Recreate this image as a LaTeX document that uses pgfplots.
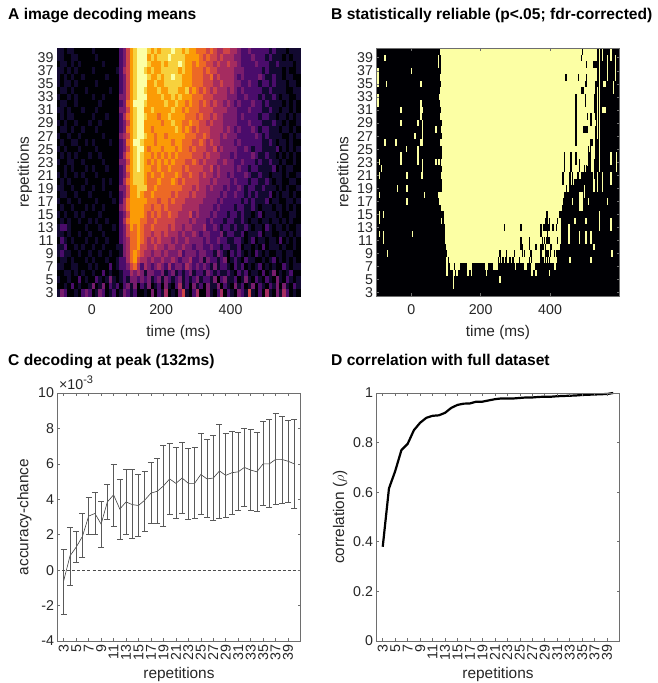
\documentclass[border=0pt]{standalone}
\usepackage{fontspec}
\setmainfont{Liberation Sans}
\usepackage{pgfplots}
\usepackage{pgfplotstable}
\pgfplotsset{compat=1.18}
\definecolor{ylw}{RGB}{252,255,164}
\definecolor{blk}{RGB}{0,0,4}
\definecolor{txt}{RGB}{38,38,38}
\definecolor{frm}{RGB}{110,110,110}
\newcommand{\tickfont}{\fontsize{14.2}{16}\selectfont}
\newcommand{\labfont}{\fontsize{15.4}{17}\selectfont}
\newcommand{\titfont}{\fontsize{15.6}{18}\selectfont\bfseries}
\pgfdeclareplotmark{cell}{\pgfpathrectangle{\pgfqpoint{-1.74pt}{-3.27pt}}{\pgfqpoint{3.48pt}{6.54pt}}\pgfusepathqfillstroke}
\pgfplotsset{
  colormap={inferno}{rgb255=(0,0,4) rgb255=(18,9,48) rgb255=(74,12,107) rgb255=(120,28,109) rgb255=(165,44,96) rgb255=(207,68,70) rgb255=(237,105,37) rgb255=(251,155,6) rgb255=(247,209,61) rgb255=(252,255,164)},
  base/.style={
    scale only axis, width=243pt, height=248pt, axis on top,
    axis line style={draw=frm, line width=0.7pt},
    tick style={draw=frm, line width=0.6pt},
    tick align=inside, major tick length=2.6pt,
    tick label style={font=\tickfont, text=txt},
    /pgf/number format/assume math mode=true,
  },
  heat/.style={base,
    xmin=-100, xmax=600, ymin=2.5, ymax=40.5,
    xtick={0,200,400}, ytick={3,5,...,39},
    xticklabel style={yshift=-5pt},
    xlabel={time (ms)}, ylabel={repetitions},
    xlabel style={at={(axis description cs:0.5,-0.147)},anchor=center,font=\labfont,text=txt},
    ylabel style={at={(axis description cs:-0.132,0.5)},anchor=center,font=\labfont,text=txt},
  },
  line/.style={base,
    xmin=2, xmax=41, xtick={3,5,...,39},
    xticklabel style={rotate=90, anchor=east},
    xlabel={repetitions},
    xlabel style={at={(axis description cs:0.5,-0.137)},anchor=center,font=\labfont,text=txt},
  },
  vstreak/.style={draw=none, mark=none, forget plot,
    error bars/.cd, y dir=both, y explicit, error mark=none,
    error bar style={draw=#1, solid, line width=1.4pt}},
}
% panel A: mean decoding, repetition in first column, then one column per 10 ms from -100 to 590 (colour level 0-9)
\pgfplotstableread[header=false]{
40  1 1 0 1 1 0 0 0 0 0  1 0 0 0 0 0 0 0 2 3  5 7 8 9 9 9 8 7 8 7  8 8 8 9 8 8 7 8 7 7  6 6 6 5 6 5 4 4 5 5  4 4 3 2 2 3 2 2 2 2  2 1 2 1 1 1 0 1 1 1
39  1 1 0 0 1 1 0 0 0 0  0 1 0 0 0 0 0 0 2 3  5 7 8 9 9 9 7 8 7 8  8 8 9 8 8 8 8 7 7 7  7 6 5 6 5 5 4 5 4 4  4 3 3 2 2 2 3 2 2 2  1 2 1 1 1 0 1 0 1 1
38  0 1 1 0 1 0 1 0 0 0  0 0 0 1 0 0 0 0 2 3  5 7 8 9 9 9 8 7 7 7  8 7 8 8 8 9 8 7 7 6  7 6 6 5 5 4 5 4 4 5  4 4 3 2 2 2 2 3 2 2  2 1 1 2 1 1 1 1 0 1
37  1 1 0 1 0 1 0 0 0 0  1 0 0 0 0 0 0 1 2 4  5 7 8 9 9 8 7 8 7 7  8 8 8 8 8 7 8 7 7 6  6 6 5 6 5 5 4 4 4 4  4 3 3 3 2 2 2 2 2 1  2 1 1 1 1 0 1 0 0 1
36  1 0 1 0 1 0 0 1 0 0  0 0 0 0 1 0 0 0 2 3  5 7 8 9 9 9 8 7 7 8  7 8 8 9 8 8 7 7 7 6  6 6 5 5 6 4 5 4 4 4  4 3 2 3 2 2 2 2 3 2  1 1 2 1 1 0 1 1 0 0
35  1 0 1 1 0 1 0 0 0 0  0 1 0 0 0 0 0 0 2 3  5 7 8 9 9 9 7 7 8 7  7 8 8 8 8 8 7 7 7 6  6 6 5 5 5 4 4 5 4 4  4 3 3 2 2 3 2 2 1 2  2 1 2 1 1 1 0 1 1 0
34  0 1 1 0 1 0 0 0 1 0  0 0 0 0 0 1 0 0 2 3  5 7 8 9 9 8 7 7 7 8  7 7 8 8 8 7 7 8 6 7  6 5 6 5 4 5 4 4 4 3  4 3 2 3 2 2 2 2 2 1  1 2 1 1 1 1 0 0 1 1
33  1 0 0 1 0 1 0 0 0 0  1 0 0 1 0 0 0 0 3 3  5 7 8 9 9 9 7 7 7 7  8 7 7 8 7 8 7 7 7 6  6 6 5 5 5 4 4 4 4 3  3 3 2 2 3 2 2 2 1 2  1 1 2 1 0 1 1 0 0 1
32  0 1 1 0 0 1 0 0 0 0  0 0 1 0 0 0 0 0 2 3  6 7 9 9 9 8 7 7 7 7  7 8 7 7 8 7 7 6 7 6  6 5 6 5 4 5 4 4 3 4  3 2 3 2 2 2 3 2 2 1  2 1 1 1 1 0 1 0 1 0
31  1 1 0 1 0 0 0 1 0 0  0 1 0 0 0 0 0 0 3 3  5 7 8 9 9 7 7 8 7 7  7 7 7 8 7 7 6 7 6 6  6 5 5 5 5 4 4 4 4 3  3 3 2 2 2 3 2 2 2 1  1 2 1 1 0 1 1 0 1 0
30  0 1 0 1 1 0 0 0 0 0  1 0 0 0 1 0 0 0 2 4  6 7 8 9 9 8 7 7 7 6  7 7 8 7 7 7 7 6 6 6  5 6 5 5 4 5 4 4 3 3  3 3 2 3 2 2 2 2 1 2  2 1 1 0 1 1 0 1 0 1
29  1 0 1 0 0 1 0 0 0 1  0 0 1 0 0 0 0 0 2 3  5 7 8 9 9 7 7 7 7 7  6 7 7 8 7 7 6 6 7 6  6 5 5 4 5 4 4 4 3 3  3 3 2 2 2 3 2 2 2 1  1 1 2 1 1 0 1 0 0 1
28  0 1 1 0 1 0 0 1 0 0  0 1 0 0 0 0 0 0 2 3  6 7 8 9 9 7 7 6 7 7  7 7 7 7 8 7 6 7 6 5  6 5 5 5 4 4 4 4 3 4  3 2 3 2 2 2 3 2 1 2  2 1 1 1 0 1 1 0 1 0
27  1 0 0 1 0 0 1 0 0 0  0 0 0 1 0 0 0 0 3 4  5 7 8 9 9 8 7 7 6 7  7 6 7 7 7 7 7 6 6 6  5 5 6 5 4 4 4 3 4 3  3 3 2 2 2 2 2 3 2 1  2 1 1 1 1 0 0 1 0 1
26  0 1 0 0 1 1 0 0 1 0  1 0 0 0 0 1 0 0 2 3  6 7 9 9 8 7 7 7 6 7  7 7 7 6 7 7 6 6 6 5  5 6 5 4 5 4 4 3 3 3  3 2 3 2 2 2 2 2 2 1  1 2 1 0 1 1 0 1 0 0
25  1 0 1 0 0 0 1 0 0 0  0 1 0 0 0 0 0 0 2 3  5 7 8 9 9 7 6 7 7 7  6 7 7 7 6 7 6 6 5 6  5 5 5 4 4 5 3 4 3 3  3 3 2 2 3 2 1 2 2 1  1 1 1 2 0 1 0 1 0 1
24  0 1 0 1 0 1 0 0 0 1  0 0 1 0 0 0 0 0 2 4  6 7 8 9 8 7 7 6 7 6  7 6 7 6 7 6 6 6 6 5  5 5 4 5 4 4 4 3 3 3  2 3 2 2 2 2 3 2 1 1  2 1 1 0 1 0 1 0 1 0
23  1 0 0 1 1 0 0 1 0 0  0 0 0 1 0 0 0 0 3 3  5 7 8 9 8 7 6 7 6 7  6 7 6 7 6 6 6 5 5 6  5 4 5 4 4 4 3 3 4 3  3 2 2 3 2 2 2 1 2 1  1 2 1 1 0 1 0 0 1 0
22  0 0 1 0 1 0 0 0 1 0  1 0 0 0 1 0 0 0 2 3  6 7 8 9 8 7 7 6 6 7  6 6 7 6 6 6 5 6 5 5  5 5 4 4 5 3 4 3 3 3  3 2 3 2 2 1 2 2 1 1  1 1 2 0 1 0 1 1 0 0
21  1 0 1 0 0 1 0 1 0 0  0 1 0 0 0 0 0 0 2 3  5 7 8 8 8 7 6 7 6 6  7 6 6 6 7 6 5 5 6 5  5 4 5 4 4 3 4 3 3 2  3 2 2 2 3 2 1 1 2 1  1 0 1 1 1 0 1 0 0 1
20  0 1 0 1 0 0 0 0 1 0  0 0 0 1 0 1 0 0 2 4  6 7 8 8 8 7 6 6 6 7  6 6 6 7 6 5 6 5 5 5  5 4 4 4 3 4 3 3 3 3  2 3 2 2 2 1 2 2 1 1  2 1 0 1 1 0 0 1 1 0
19  1 1 0 0 1 0 0 1 0 0  1 0 0 1 0 0 0 0 3 3  5 7 7 8 8 8 6 6 7 6  6 6 6 6 6 6 5 5 5 4  5 4 4 3 4 3 3 3 2 3  2 2 3 2 1 2 2 1 1 2  1 1 1 0 1 0 1 0 0 1
18  0 1 1 0 0 1 0 0 0 1  0 0 0 0 0 1 0 0 2 3  5 7 7 8 7 6 6 7 6 6  6 6 6 5 6 5 5 5 4 5  4 4 4 3 3 3 3 2 3 2  2 3 2 2 1 2 1 2 1 1  1 2 0 1 0 1 1 0 1 0
17  1 0 0 1 0 0 1 0 0 0  0 1 0 0 0 0 1 0 2 4  6 7 7 7 7 7 6 6 6 5  6 6 5 6 5 5 5 4 4 4  4 4 3 3 3 3 2 3 2 2  2 2 2 1 2 1 2 1 1 1  2 0 1 1 0 0 1 1 0 1
16  0 1 0 0 1 0 0 0 1 0  1 0 0 1 0 0 0 0 3 4  6 7 7 7 7 6 6 5 6 6  5 6 5 5 5 5 4 4 4 4  4 3 3 3 3 2 3 2 2 2  2 1 2 2 1 1 2 1 0 1  1 1 0 1 1 0 1 0 1 0
15  1 0 1 0 0 1 0 1 0 0  0 0 1 0 0 0 0 0 2 3  5 7 7 7 7 6 5 6 5 6  5 5 6 5 5 4 4 4 5 3  4 3 3 3 2 3 2 2 2 1  2 2 1 2 1 1 0 1 2 0  1 1 1 0 1 0 0 1 1 0
14  0 1 0 1 0 0 1 0 0 1  0 1 0 0 1 0 0 0 2 4  6 7 7 7 6 6 5 5 6 5  5 5 5 5 4 4 4 4 3 4  3 3 3 2 3 2 2 2 1 2  2 1 1 2 1 0 1 1 0 1  1 0 1 1 0 1 0 1 0 0
13  1 2 2 1 0 0 0 0 1 0  0 0 1 0 0 0 1 0 2 3  5 7 6 7 6 5 5 6 5 5  5 5 4 5 4 4 3 4 4 3  3 3 4 2 2 3 2 1 2 2  1 2 1 1 2 1 0 1 1 0  2 1 0 1 1 0 1 0 0 1
12  1 1 0 1 0 0 1 0 0 1  0 0 0 1 0 0 0 0 2 3  5 6 6 7 6 5 5 4 5 5  4 5 4 4 4 3 4 3 3 4  3 2 3 3 2 2 2 3 1 2  2 1 1 2 0 1 1 1 2 0  1 1 0 0 1 1 0 1 0 1
11  0 2 1 0 1 0 0 0 1 0  0 1 0 0 1 0 0 0 2 3  4 6 6 7 6 5 4 5 4 5  4 4 4 3 4 3 3 4 3 3  3 3 2 3 2 2 3 2 2 1  1 2 2 1 0 1 2 0 1 1  0 1 1 0 2 0 1 0 1 0
10  1 1 2 0 0 1 0 1 0 0  1 0 0 1 0 0 0 1 1 3  4 6 6 7 5 5 4 4 5 4  4 3 4 4 3 3 4 3 3 2  3 3 2 2 3 2 2 1 2 2  1 1 2 0 1 1 0 1 0 2  0 1 1 1 0 1 0 0 1 0
9   1 2 1 1 0 0 1 0 0 1  0 0 1 0 0 1 0 0 1 3  4 6 7 6 5 4 4 3 4 4  3 4 3 3 3 4 2 3 3 3  2 3 3 2 2 1 3 2 1 0  2 1 2 1 0 1 0 2 1 0  1 0 0 1 1 0 1 1 0 0
8   0 1 1 0 1 0 0 0 1 0  1 0 0 0 1 0 0 1 2 2  4 6 7 5 4 4 3 4 3 3  4 3 3 4 3 2 3 3 4 2  2 3 1 3 2 2 1 2 3 0  1 2 1 0 2 1 1 0 0 1  0 1 2 0 1 0 1 0 1 0
7   1 1 0 0 1 1 0 0 0 1  0 1 0 0 0 2 0 1 2 2  3 5 6 4 2 4 3 2 3 4  3 2 4 2 3 3 2 4 3 2  3 2 3 2 1 3 1 2 2 1  0 2 1 2 0 1 0 1 2 0  1 0 1 0 0 2 1 0 1 1
6   0 0 1 1 0 1 0 1 0 0  1 0 0 2 0 1 0 0 1 2  2 4 3 4 3 1 3 3 2 2  3 1 2 3 1 2 1 2 3 1  2 2 1 3 2 1 2 1 1 2  1 0 2 1 2 0 1 1 0 2  0 1 3 0 1 0 1 2 0 0
5   1 0 0 1 0 0 2 0 1 0  0 2 1 0 1 3 1 0 1 2  1 3 3 2 3 2 3 1 2 3  1 3 2 1 2 3 1 2 1 2  3 1 2 2 1 3 0 2 3 1  1 2 0 1 3 1 0 2 1 0  2 1 0 3 1 0 2 1 0 1
4   0 0 1 0 2 0 1 0 0 1  3 0 1 3 0 2 1 2 0 2  3 1 3 0 2 1 3 0 1 2  0 3 1 0 2 4 1 2 0 3  1 2 0 3 1 1 3 0 2 1  0 3 1 2 0 1 3 0 2 1  0 2 1 3 0 3 1 0 2 1
3   1 3 2 0 0 1 0 2 3 2  0 1 3 2 0 1 2 0 1 3  2 1 2 0 0 1 0 3 0 2  1 4 0 1 0 3 5 1 0 2  4 0 0 3 1 0 2 4 0 2  1 0 3 2 1 5 1 0 2 0  4 1 0 3 1 4 2 0 1 0
}\tableA
% panel B: contiguous reliable run in each row (ms)
\pgfplotstableread{
r a b
40 82 529
39 87 529
38 87 525
37 85 528
36 83 528
35 86 530
34 82 528
33 80 526
32 82 526
31 85 526
30 83 530
29 89 532
28 87 529
27 90 528
26 82 521
25 89 518
24 90 513
23 87 508
22 89 504
21 87 490
20 89 470
19 88 445
18 82 441
17 80 436
16 85 434
15 94 427
14 95 432
13 97 432
12 97 432
11 98 432
10 101 430
9 103 430
8 109 420
7 113 122
7 127 140
7 161 175
7 212 222
7 236 250
7 298 302
7 326 333
7 345 358
7 410 417
6 119 126
}\tableBmain
% panel B: runs of non-reliable cells inside the reliable region (t, first row, last row)
\pgfplotstableread{
t r1 r2
494 40 40
491 39 39
505 38 38
446 36 36
482 36 36
505 36 36
492 34 34
495 34 34
504 35 35
475 26 33
502 32 33
508 30 30
518 29 30
498 28 28
503 28 28
507 28 28
518 24 26
511 23 25
441 22 24
460 22 24
475 23 24
484 22 23
499 22 22
505 21 22
437 20 21
457 19 21
465 20 21
480 20 21
500 20 21
388 14 14
393 14 14
398 14 14
422 14 14
391 15 15
269 13 13
316 13 13
374 13 13
382 13 13
386 13 13
390 13 13
394 13 13
398 13 13
408 13 13
419 13 13
374 12 12
393 12 12
316 11 11
340 11 11
379 11 11
384 11 11
389 11 11
394 11 11
398 11 11
422 11 11
316 10 10
320 10 10
340 10 10
360 10 10
374 10 10
380 10 10
386 10 10
403 10 10
256 9 9
275 9 9
297 9 9
320 9 9
326 9 9
345 9 9
374 9 9
388 9 9
394 9 9
402 9 9
412 9 9
420 9 9
426 9 9
252 8 8
258 8 8
264 8 8
273 8 8
285 8 8
293 8 8
312 8 8
340 8 8
346 8 8
374 8 8
380 8 8
386 8 8
392 8 8
398 8 8
}\tableBblack
% panel B: isolated reliable cells (t, first row, last row)
\pgfplotstableread{
t r1 r2
-76 39 39
-96 35 37
0 37 37
-72 35 35
28 35 35
-96 32 33
-29 31 31
28 31 32
32 31 31
28 30 30
-29 29 29
20 29 29
32 26 29
11 27 27
-76 26 26
-44 26 26
28 26 26
-13 25 25
20 23 25
-30 24 24
-29 23 23
-92 23 23
-85 22 22
32 22 23
20 23 23
-92 21 21
-12 21 21
31 21 21
-40 19 19
-12 19 19
-92 18 18
39 18 18
-12 17 17
-92 14 15
-80 15 15
-92 12 12
-80 11 12
4 12 12
-68 9 9
71 28 28
71 23 23
80 23 23
79 38 39
80 18 18
88 14 14
532 39 40
532 36 37
542 22 40
551 39 40
555 35 35
559 35 35
552 31 31
558 31 31
566 38 39
566 36 37
575 39 40
575 23 24
588 36 39
582 34 35
592 22 24
537 27 34
527 24 27
521 22 25
525 21 23
452 19 19
465 17 17
484 16 18
489 16 18
494 16 18
511 17 17
566 17 17
575 13 14
542 13 15
504 14 14
472 14 14
518 11 12
484 11 12
504 11 12
527 10 10
578 9 9
518 8 8
457 8 8
454 13 13
455 11 12
537 19 21
499 18 19
527 19 20
551 19 21
575 20 21
103 6 8
132 6 6
164 6 6
173 6 6
217 6 6
348 6 6
360 6 6
398 6 6
121 4 5
256 5 5
}\tableByellow
% panel C: rep, mean, upper, lower (x 10^-3)
\pgfplotstableread{
r m u l
3 -0.60 1.20 -2.50
4 0.80 2.40 -0.85
5 1.30 2.20 0.45
6 1.90 3.20 0.70
7 3.05 4.10 2.05
8 3.20 4.40 2.00
9 2.60 3.90 1.30
10 3.85 4.85 2.85
11 4.25 6.00 2.50
12 3.45 5.10 1.75
13 3.85 5.67 2.05
14 3.70 5.67 1.80
15 3.65 5.40 1.90
16 3.95 5.60 2.20
17 4.35 6.10 2.65
18 4.45 6.30 2.65
19 4.75 7.05 2.50
20 5.15 7.15 3.15
21 4.90 6.95 2.90
22 5.20 7.20 3.20
23 4.90 6.90 2.85
24 4.90 6.95 2.90
25 5.40 7.75 3.15
26 5.15 7.40 3.00
27 5.20 7.60 2.80
28 5.60 8.25 2.95
29 5.35 7.75 3.00
30 5.50 7.85 3.15
31 5.55 7.80 3.35
32 5.80 8.00 3.60
33 5.65 7.95 3.35
34 5.55 7.80 3.30
35 6.00 8.40 3.65
36 6.00 8.50 3.55
37 6.25 8.85 3.70
38 6.25 8.70 3.75
39 6.15 8.45 3.85
40 6.00 8.50 3.50
}\tableC
\begin{document}
\begin{tikzpicture}[x=1pt,y=1pt]
\path[use as bounding box] (0,0) rectangle (657,683);
% A
\begin{axis}[heat, at={(57pt,387pt)}, anchor=south west, colormap name=inferno, point meta min=0, point meta max=9]
\pgfplotsinvokeforeach{1,...,70}{
  \addplot[scatter, only marks, mark=cell, mark options={line width=0.35pt},
    scatter/use mapped color={draw=mapped color, fill=mapped color}, forget plot, point meta=explicit]
    table[x expr={(#1-1)*10-95}, y index=0, meta index=#1] {\tableA};
}
\end{axis}
% B
\begin{axis}[heat, at={(376.5pt,387pt)}, anchor=south west, axis background/.style={fill=blk}]
\addplot[draw=none, mark=none, forget plot,
  error bars/.cd, x dir=both, x explicit, error mark=none,
  error bar style={draw=ylw, solid, line width=6.62pt}]
  table[x expr={(\thisrow{a}+\thisrow{b})/2}, y=r, x error expr={(\thisrow{b}-\thisrow{a})/2}] {\tableBmain};
\addplot[vstreak=blk] table[x=t, y expr={(\thisrow{r1}+\thisrow{r2})/2}, y error expr={(\thisrow{r2}-\thisrow{r1})/2+0.5}] {\tableBblack};
\addplot[vstreak=ylw] table[x=t, y expr={(\thisrow{r1}+\thisrow{r2})/2}, y error expr={(\thisrow{r2}-\thisrow{r1})/2+0.5}] {\tableByellow};
\end{axis}
% C
\begin{axis}[line, at={(57.5pt,42pt)}, anchor=south west,
  ymin=-4, ymax=10, ytick={-4,-2,...,10}, ylabel={accuracy-chance},
  ylabel style={at={(axis description cs:-0.136,0.5)},anchor=center,font=\labfont,text=txt}]
\addplot[draw=black!75, line width=0.6pt, forget plot,
  error bars/.cd, y dir=both, y explicit, error mark options={rotate=90, mark size=3pt, draw=black!65, line width=0.6pt},
  error bar style={draw=black!65, line width=0.6pt, solid}]
  table[x=r, y=m, y error plus expr={\thisrow{u}-\thisrow{m}}, y error minus expr={\thisrow{m}-\thisrow{l}}] {\tableC};
\addplot[draw=black!70, line width=0.6pt, dashed, dash pattern=on 3pt off 2pt, forget plot] coordinates {(2,0) (41,0)};
\end{axis}
% D
\begin{axis}[line, at={(376.5pt,42pt)}, anchor=south west,
  ymin=0, ymax=1, ytick={0,0.2,0.4,0.6,0.8,1}, yticklabels={0,0.2,0.4,0.6,0.8,1},
  ylabel={correlation ($\rho$)},
  ylabel style={at={(axis description cs:-0.15,0.5)},anchor=center,font=\labfont,text=txt}, clip=false]
\addplot[black, line width=2.2pt, line join=round, forget plot] coordinates {
(3,0.38) (4,0.615) (5,0.685) (6,0.77) (7,0.795) (8,0.85) (9,0.88) (10,0.90) (11,0.908) (12,0.91)
(13,0.92) (14,0.94) (15,0.952) (16,0.957) (17,0.958) (18,0.965) (19,0.965) (20,0.97) (21,0.975) (22,0.978)
(23,0.978) (24,0.978) (25,0.98) (26,0.982) (27,0.982) (28,0.984) (29,0.985) (30,0.985) (31,0.987) (32,0.988)
(33,0.989) (34,0.99) (35,0.992) (36,0.993) (37,0.994) (38,0.995) (39,0.996) (40,1.0)};
\end{axis}
\node[anchor=base west, font=\titfont, inner sep=0pt] at (8,663) {A image decoding means};
\node[anchor=base west, font=\titfont, inner sep=0pt] at (331,663) {B statistically reliable (p<.05; fdr-corrected)};
\node[anchor=base west, font=\titfont, inner sep=0pt] at (8,317.5) {C decoding at peak (132ms)};
\node[anchor=base west, font=\titfont, inner sep=0pt] at (331,317.5) {D correlation with full dataset};
\node[anchor=base west, font=\tickfont, text=txt, inner sep=0pt] at (59,293) {×10\raisebox{0.45em}{\fontsize{11}{12}\selectfont -3}};
\end{tikzpicture}
\end{document}
